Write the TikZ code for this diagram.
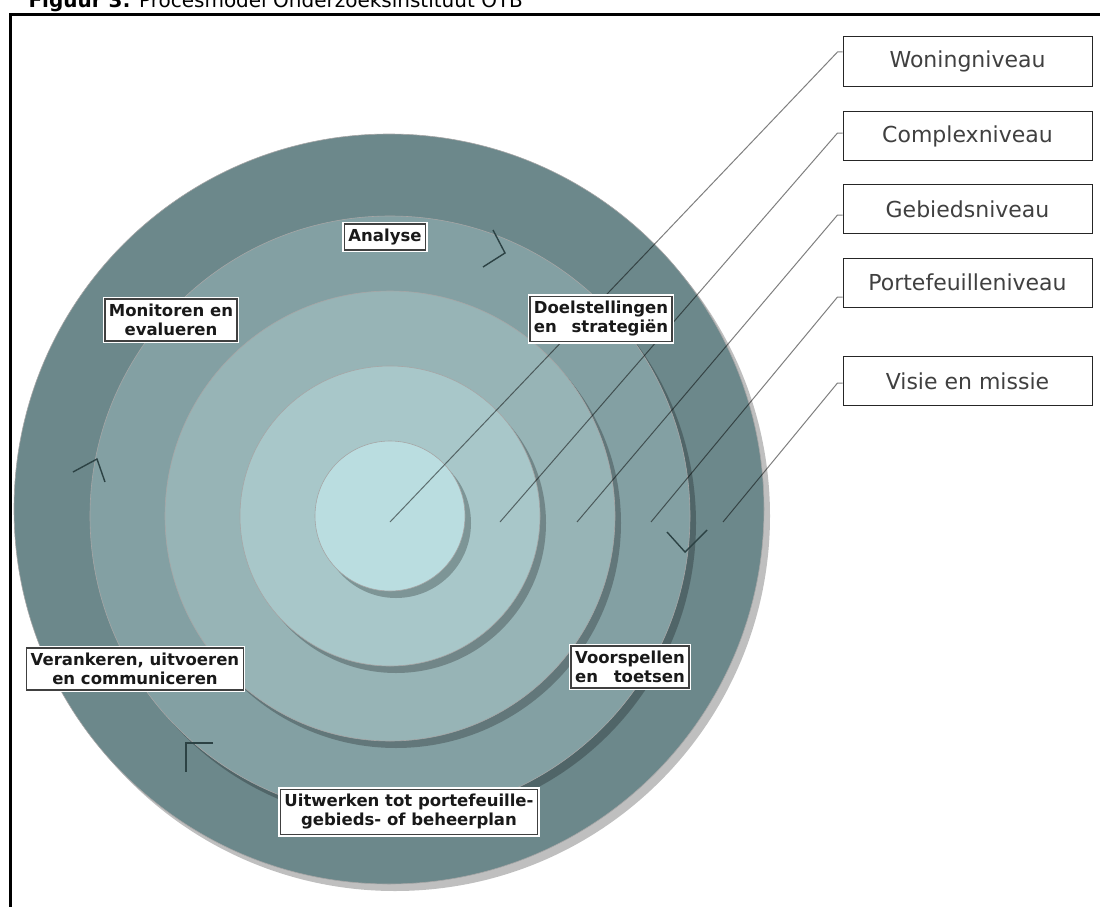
\documentclass[tikz,border=0pt]{standalone}
\usepackage{fontspec}
\setmainfont{DejaVu Sans}
\usepackage{calc}
\usetikzlibrary{shadows}
\definecolor{ringA}{HTML}{6C888B}
\definecolor{ringB}{HTML}{83A0A3}
\definecolor{ringC}{HTML}{97B4B6}
\definecolor{ringD}{HTML}{A8C7C9}
\definecolor{ringE}{HTML}{BADDE0}
\definecolor{pijlkleur}{HTML}{2C4244}
\newcommand{\spreid}[2]{\makebox[\widthof{#1}][s]{#2}}

\begin{document}
\begin{tikzpicture}[x=1pt,y=-1pt]
\tikzstyle{every node}=[font=\fontsize{16.5}{19}\selectfont\bfseries]
\tikzstyle{schijf}=[draw=black!35, line width=0.6pt, drop shadow={shadow xshift=6pt, shadow yshift=-7pt, opacity=0.25, fill=black}]
\tikzstyle{fase}=[draw=black!75, line width=1.3pt, fill=white, text=black!90, inner xsep=4pt, inner ysep=5pt, align=center, preaction={draw=white, line width=4pt}]
\tikzstyle{niveau}=[draw=black!85, line width=1pt, fill=white, minimum width=249pt, minimum height=49pt, text=black!75, font=\fontsize{22}{26}\selectfont]
\tikzstyle{leader}=[black, opacity=0.5, line width=1pt]
\tikzstyle{pijl}=[pijlkleur, line width=1.4pt]
\useasboundingbox (0,0) rectangle (1100,907);

\node[anchor=base west, font=\fontsize{20}{23}\selectfont] (titel) at (25,8) {\textbf{Figuur 3:} Procesmodel Onderzoeksinstituut OTB};
\draw[line width=3pt] (1100,15) -- (10,15) -- (10,907);

\coordinate (m) at (390,516);
\fill[schijf, fill=ringA] (389,509) circle [radius=375pt];
\fill[schijf, fill=ringB] (m) circle [radius=300pt];
\fill[schijf, fill=ringC] (m) circle [radius=225pt];
\fill[schijf, fill=ringD] (m) circle [radius=150pt];
\fill[schijf, fill=ringE] (m) circle [radius=75pt];

\node[niveau] (woning) at (967.5,61.5) {Woningniveau};
\node[niveau] (complex) at (967.5,136) {Complexniveau};
\node[niveau] (gebied) at (967.5,209) {Gebiedsniveau};
\node[niveau] (portefeuille) at (967.5,282.5) {Portefeuilleniveau};
\node[niveau] (visie) at (967.5,381) {Visie en missie};

\coordinate (eW) at (390,522);
\coordinate (eC) at (500,522);
\coordinate (eG) at (577,522);
\coordinate (eP) at (651,522);
\coordinate (eV) at (723,522);
\draw[leader] ([yshift=9.5pt]woning.west) -- ++(-5,0) -- (eW);
\draw[leader] ([yshift=3pt]complex.west) -- ++(-5,0) -- (eC);
\draw[leader] ([yshift=-6pt]gebied.west) -- ++(-5,0) -- (eG);
\draw[leader] ([yshift=-14.5pt]portefeuille.west) -- ++(-5,0) -- (eP);
\draw[leader] ([yshift=-2pt]visie.west) -- ++(-5,0) -- (eV);

\draw[pijl] (493,230) -- (505,253) -- (483,267);
\draw[pijl] (667,532) -- (685,552) -- (707,530);
\draw[pijl] (213,743) -- (186,743) -- (186,772);
\draw[pijl] (73,472) -- (97,459) -- (105,482);

\node[fase] (analyse) at (385,237) {Analyse};
\node[fase] (monitoren) at (171,320) {Monitoren en\\evalueren};
\node[fase, align=left] (doelen) at (601,319) {Doelstellingen\\\spreid{Doelstellingen}{en strategiën}};
\node[fase] (verankeren) at (135,669) {Verankeren, uitvoeren\\en communiceren};
\node[fase, align=left] (voorspellen) at (630,667) {Voorspellen\\\spreid{Voorspellen}{en toetsen}};
\node[fase] (uitwerken) at (409,812) {Uitwerken tot portefeuille-\\gebieds- of beheerplan};

\end{tikzpicture}
\end{document}
